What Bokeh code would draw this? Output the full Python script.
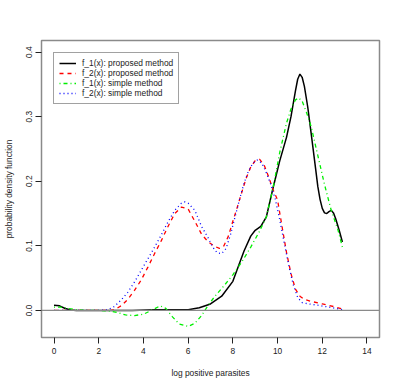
from bokeh.plotting import figure
from bokeh.models import Range1d, FixedTicker, Legend, LegendItem, Span
from bokeh.embed import file_html
from bokeh.resources import INLINE

# ---- data ----
x_f1_prop = [0, 0.25, 0.5, 0.75, 1.0, 1.5, 2.5, 3.5, 4.5, 5.5, 6.0, 6.5, 7.0, 7.5, 8.0, 8.5,
             8.8, 9.0, 9.25, 9.5, 9.8, 10.1, 10.4, 10.6, 10.8, 10.9, 11.0, 11.1, 11.2, 11.35,
             11.5, 11.7, 11.8, 11.9, 12.0, 12.1, 12.2, 12.3, 12.4, 12.5, 12.6, 12.75, 12.9]
y_f1_prop = [0.008, 0.007, 0.003, 0.0005, 0.0, 0.0, 0.0, 0.0, 0.001, 0.001, 0.001, 0.004,
             0.010, 0.022, 0.045, 0.092, 0.115, 0.124, 0.130, 0.145, 0.190, 0.232, 0.268,
             0.300, 0.340, 0.358, 0.366, 0.361, 0.347, 0.315, 0.275, 0.220, 0.192, 0.172,
             0.158, 0.151, 0.150, 0.153, 0.155, 0.151, 0.142, 0.125, 0.106]

x_f2_prop = [0, 1, 2, 2.5, 2.7, 3.0, 3.3, 3.6, 3.9, 4.2, 4.5, 4.8, 5.1, 5.4, 5.7, 6.0, 6.3,
             6.6, 6.9, 7.2, 7.4, 7.6, 7.8, 8.0, 8.2, 8.4, 8.6, 8.8, 9.0, 9.2, 9.4, 9.6, 9.8,
             10.0, 10.2, 10.4, 10.6, 10.8, 11.0, 11.2, 11.5, 12.0, 12.5, 12.9]
y_f2_prop = [0, 0, 0, 0, 0.001, 0.007, 0.017, 0.031, 0.047, 0.067, 0.088, 0.108, 0.130,
             0.150, 0.160, 0.157, 0.138, 0.118, 0.106, 0.099, 0.096, 0.100, 0.115, 0.138,
             0.160, 0.183, 0.205, 0.222, 0.232, 0.234, 0.225, 0.207, 0.187, 0.171, 0.130,
             0.090, 0.057, 0.033, 0.022, 0.017, 0.014, 0.010, 0.006, 0.002]

x_f1_simp = [0, 0.3, 0.6, 1.0, 1.5, 2.0, 2.5, 2.8, 3.2, 3.6, 4.0, 4.35, 4.75, 5.0, 5.3, 5.6,
             6.0, 6.3, 6.6, 6.9, 7.2, 7.6, 8.0, 8.4, 8.8, 9.2, 9.5, 9.8, 10.1, 10.4, 10.6,
             10.8, 10.95, 11.1, 11.3, 11.5, 11.8, 12.1, 12.4, 12.7, 12.9]
y_f1_simp = [0.005, 0.005, 0.003, 0.001, 0.0, 0.0, -0.001, -0.003, -0.007, -0.008, -0.006,
             0.000, 0.007, 0.003, -0.010, -0.021, -0.025, -0.020, -0.008, 0.008, 0.022,
             0.038, 0.055, 0.075, 0.098, 0.123, 0.145, 0.190, 0.245, 0.290, 0.312,
             0.326, 0.329, 0.324, 0.306, 0.285, 0.240, 0.195, 0.155, 0.125, 0.098]

x_f2_simp = [0, 1, 2, 2.4, 2.7, 3.0, 3.3, 3.6, 3.9, 4.2, 4.5, 4.8, 5.1, 5.4, 5.7, 5.85, 6.0,
             6.3, 6.6, 6.9, 7.1, 7.3, 7.5, 7.7, 7.9, 8.1, 8.3, 8.5, 8.7, 8.9, 9.1, 9.3, 9.5,
             9.7, 9.9, 10.1, 10.3, 10.5, 10.7, 10.9, 11.1, 11.4, 11.8, 12.3, 12.9]
y_f2_simp = [0, 0, 0, 0.001, 0.006, 0.016, 0.028, 0.044, 0.062, 0.080, 0.098, 0.117, 0.137,
             0.155, 0.166, 0.168, 0.166, 0.155, 0.130, 0.112, 0.098, 0.089, 0.088, 0.096,
             0.118, 0.145, 0.172, 0.197, 0.216, 0.228, 0.233, 0.228, 0.213, 0.195, 0.172,
             0.140, 0.104, 0.070, 0.040, 0.020, 0.012, 0.010, 0.008, 0.005, 0.001]

x_ticks = [0, 2, 4, 6, 8, 10, 12, 14]
y_ticks = [0.0, 0.1, 0.2, 0.3, 0.4]
y_tick_labels = ["0.0", "0.1", "0.2", "0.3", "0.4"]
series_names = ["f_1(x): proposed method", "f_2(x): proposed method",
                "f_1(x): simple method", "f_2(x): simple method"]
x_title = "log positive parasites"
y_title = "probability density function"

FONT = "Liberation Sans"
FS = "8.4px"

p = figure(width=392, height=380, output_backend="svg", toolbar_location=None,
           x_range=Range1d(-0.56, 14.56), y_range=Range1d(-0.042, 0.418),
           min_border_left=41, min_border_right=13, min_border_top=40, min_border_bottom=43)
p.background_fill_color = "white"
p.border_fill_color = "white"
p.outline_line_color = "#8a8a8a"
p.outline_line_width = 1.5
p.grid.visible = False

for ax in (p.xaxis[0], p.yaxis[0]):
    ax.axis_line_color = None
    ax.major_tick_in = 0
    ax.major_tick_out = 6
    ax.major_tick_line_color = "#222222"
    ax.minor_tick_line_color = None
    ax.major_label_text_font = FONT
    ax.major_label_text_font_size = FS
    ax.major_label_text_color = "#222222"
    ax.axis_label_text_font = FONT
    ax.axis_label_text_font_size = FS
    ax.axis_label_text_font_style = "normal"
    ax.axis_label_text_color = "#222222"

p.xaxis[0].ticker = FixedTicker(ticks=x_ticks)
p.xaxis[0].major_label_standoff = 4
p.xaxis[0].axis_label = x_title
p.xaxis[0].axis_label_standoff = 11

p.yaxis[0].ticker = FixedTicker(ticks=y_ticks)
p.yaxis[0].major_label_overrides = {t: s for t, s in zip(y_ticks, y_tick_labels)}
p.yaxis[0].major_label_orientation = "vertical"
p.yaxis[0].major_label_standoff = 3
p.yaxis[0].axis_label = y_title
p.yaxis[0].axis_label_standoff = 10

p.add_layout(Span(location=0, dimension="width", line_color="#8a8a8a", line_width=1.3))

r1 = p.line(x_f1_prop, y_f1_prop, line_color="black", line_width=1.5)
r2 = p.line(x_f2_prop, y_f2_prop, line_color="#ff0000", line_width=1.3, line_dash="4 4")
r3 = p.line(x_f1_simp, y_f1_simp, line_color="#00ee00", line_width=1.3, line_dash="1 3 4 3")
r4 = p.line(x_f2_simp, y_f2_simp, line_color="#0000ff", line_width=1.3, line_dash="1 3")

legend = Legend(items=[LegendItem(label=n, renderers=[r]) for n, r in
                       zip(series_names, [r1, r2, r3, r4])],
                location="top_left", margin=12, padding=5, spacing=0,
                label_height=10, glyph_height=10, glyph_width=17, label_standoff=6,
                label_text_font=FONT, label_text_font_size=FS, label_text_color="#222222",
                border_line_color="#444444", border_line_width=1,
                background_fill_color="white", background_fill_alpha=1)
p.add_layout(legend, "center")

open("out.html", "w").write(file_html(p, INLINE))
